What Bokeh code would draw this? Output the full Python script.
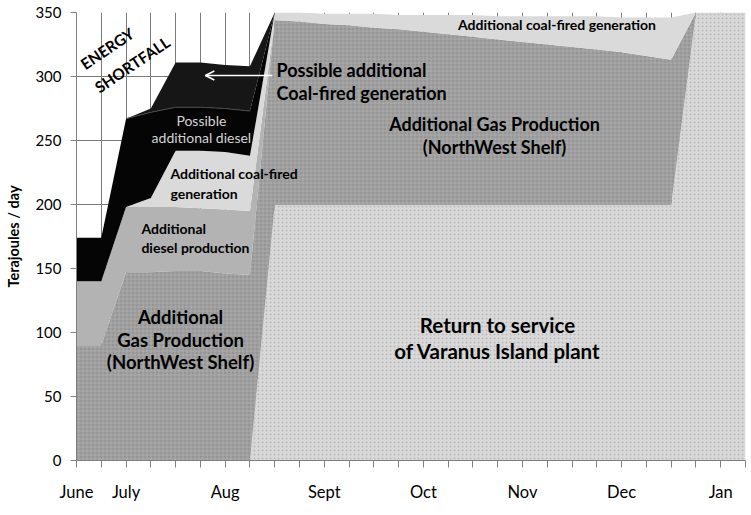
import numpy as np
from bokeh.plotting import figure
from bokeh.models import Range1d, FixedTicker, Label, Arrow, OpenHead
from bokeh.embed import file_html
from bokeh.resources import INLINE

# ---------------- data (weekly, Terajoules / day) ----------------
weeks = list(range(28))
month_ticks = [0, 2, 6, 10, 14, 18, 22, 26]
month_labels = ["June", "July", "Aug", "Sept", "Oct", "Nov", "Dec", "Jan"]

varanus = [0, 0, 0, 0, 0, 0, 0, 0,
           200, 200, 200, 200, 200, 200, 200, 200, 200, 200, 200, 200, 200, 200, 200, 200, 200,
           350, 350, 350]
gas_nws = [90, 90, 147, 147, 148, 148, 146, 145,
           144, 143, 141, 140, 138, 137, 135, 133, 131, 129, 127, 125, 123, 121, 119, 116, 113,
           0, 0, 0]
diesel_prod = [50, 50, 51, 51, 50, 49, 50, 50] + [0] * 20
coal_fired = [0, 0, 0, 7, 44, 45, 45, 43,
              6, 7, 8, 9, 11, 11, 13, 15, 17, 18, 20, 22, 24, 26, 27, 30, 33,
              0, 0, 0]
possible_diesel = [34, 34, 69, 67, 34, 34, 34, 35] + [0] * 20
possible_coal = [0, 0, 0, 3, 35, 35, 34, 35] + [0] * 20

FONT = "Lato"

p = figure(width=751, height=515, output_backend="svg", toolbar_location=None,
           x_range=Range1d(0, 27), y_range=Range1d(0, 350),
           min_border_left=76, min_border_right=6, min_border_top=12, min_border_bottom=55)
p.outline_line_color = None
p.background_fill_color = "white"
p.border_fill_color = "white"

# grid
p.xgrid.ticker = FixedTicker(ticks=weeks)
p.ygrid.ticker = FixedTicker(ticks=[0, 50, 100, 150, 200, 250, 300, 350])
p.xgrid.grid_line_color = "#7a7a7a"
p.ygrid.grid_line_color = "#7a7a7a"
p.xgrid.level = "underlay"
p.ygrid.level = "underlay"

# stacked areas
x = np.array(weeks, dtype=float)
layers = [np.array(a, dtype=float) for a in
          (varanus, gas_nws, diesel_prod, coal_fired, possible_diesel, possible_coal)]
cum = np.cumsum(np.vstack(layers), axis=0)
bottoms = [np.zeros_like(x)] + [cum[i] for i in range(len(layers) - 1)]

styles = [
    dict(fill_color="#d9d9d9", hatch_pattern="dot", hatch_color="#a4a4a4", hatch_scale=4, hatch_weight=1, hatch_alpha=0.6),
    dict(fill_color="#969696", hatch_pattern="cross", hatch_color="#b8b8b8", hatch_scale=4, hatch_weight=1, hatch_alpha=0.55),
    dict(fill_color="#b3b3b3"),
    dict(fill_color="#dadada"),
    dict(fill_color="#050505"),
    dict(fill_color="#161616"),
]
for i, st in enumerate(styles):
    p.varea(x=x, y1=bottoms[i], y2=cum[i], fill_alpha=1.0, **st)

# thin boundary between the two black layers
p.line(x=x[2:8], y=cum[4][2:8], line_color="#4a4a4a", line_width=1)

# axes
p.xaxis.ticker = FixedTicker(ticks=weeks)
p.xaxis.major_label_overrides = {w: "" for w in weeks}
p.xaxis.major_label_overrides.update({t: l for t, l in zip(month_ticks, month_labels)})
p.xaxis.major_tick_out = 7
p.xaxis.major_tick_in = 0
p.xaxis.minor_tick_line_color = None
p.xaxis.major_label_standoff = 14
p.xaxis.axis_line_color = "#808080"
p.xaxis.major_tick_line_color = "#808080"
p.xaxis.major_label_text_font = FONT
p.xaxis.major_label_text_font_size = "16.5px"
p.xaxis.major_label_text_color = "black"

p.yaxis.ticker = FixedTicker(ticks=[0, 50, 100, 150, 200, 250, 300, 350])
p.yaxis.major_tick_out = 6
p.yaxis.major_tick_in = 0
p.yaxis.minor_tick_line_color = None
p.yaxis.major_label_standoff = 9
p.yaxis.axis_line_color = "#808080"
p.yaxis.major_tick_line_color = "#808080"
p.yaxis.major_label_text_font = FONT
p.yaxis.major_label_text_font_size = "15px"
p.yaxis.major_label_text_color = "black"
p.yaxis.axis_label = "Terajoules / day"
p.yaxis.axis_label_text_font = FONT
p.yaxis.axis_label_text_font_style = "bold"
p.yaxis.axis_label_text_font_size = "14.5px"
p.yaxis.axis_label_text_color = "black"
p.yaxis.axis_label_standoff = 10


def add_text(xv, yv, txt, size, bold=True, color="black", align="center", angle=0.0):
    p.add_layout(Label(x=xv, y=yv, text=txt, text_font=FONT, text_font_size=size,
                       text_font_style="bold" if bold else "normal", text_color=color,
                       text_align=align, text_baseline="middle", angle=angle))


ang = np.deg2rad(34)
add_text(1.24, 321.9, "ENERGY", "15.5px", angle=ang)
add_text(2.25, 309.4, "SHORTFALL", "15.5px", angle=ang)

add_text(8.07, 304.7, "Possible additional", "18px", align="left")
add_text(8.07, 287.5, "Coal-fired generation", "18px", align="left")
p.add_layout(Arrow(end=OpenHead(size=9, line_color="white", line_width=1.5),
                   x_start=7.9, y_start=300.8, x_end=5.2, y_end=300.8,
                   line_color="white", line_width=1.5))

add_text(5.04, 265.6, "Possible", "14px", bold=False, color="#d4d4d4")
add_text(5.04, 252.3, "additional diesel", "14px", bold=False, color="#d4d4d4")

add_text(3.79, 224.0, "Additional coal-fired", "14px", align="left")
add_text(3.79, 208.4, "generation", "14px", align="left")

add_text(2.62, 181.0, "Additional", "14px", align="left")
add_text(2.62, 166.6, "diesel production", "14px", align="left")

add_text(4.2, 112.0, "Additional", "18.5px")
add_text(4.2, 94.3, "Gas Production", "18.5px")
add_text(4.2, 76.8, "(NorthWest Shelf)", "18.5px")

add_text(16.99, 105.5, "Return to service", "20.5px")
add_text(16.99, 85.9, "of Varanus Island plant", "20.5px")

add_text(16.87, 263.0, "Additional Gas Production", "18px")
add_text(16.87, 244.8, "(NorthWest Shelf)", "18px")

add_text(19.39, 340.6, "Additional coal-fired generation", "14px")

open("out.html", "w").write(file_html(p, INLINE))
